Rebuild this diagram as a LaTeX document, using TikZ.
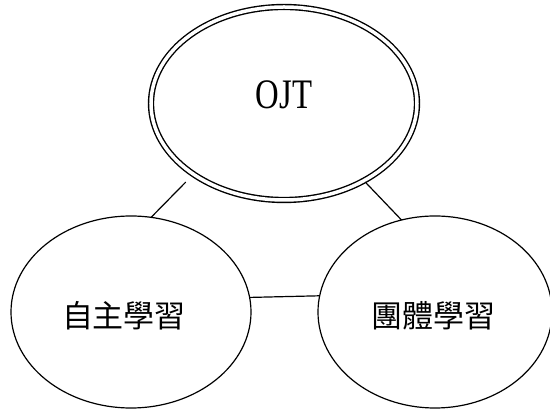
\documentclass[tikz,border=0pt]{standalone}
\usepackage{fontspec}
\usetikzlibrary{shapes.geometric}
\newfontfamily\cjkfont{Noto Sans CJK TC}
\newfontfamily\ojtfont[FakeStretch=0.78]{Liberation Serif}
\begin{document}
\begin{tikzpicture}[x=1pt,y=-1pt,
  bubble/.style={draw=black, ellipse, line width=1.2pt, inner sep=0pt, outer sep=0pt},
  mainbubble/.style={draw=black, ellipse, double=white, double distance=3.5pt, line width=1.4pt, inner sep=0pt, outer sep=0pt},
  cjklabel/.style={font=\cjkfont\fontsize{31}{31}\selectfont, inner sep=0pt},
  ojtlabel/.style={font=\ojtfont\fontsize{42}{42}\selectfont, inner sep=0pt},
  link/.style={draw=black, line width=1.2pt}]
\useasboundingbox (0,0) rectangle (550,411);
\fill[white] (0,0) rectangle (550,411);
\node[mainbubble, minimum width=266pt, minimum height=193pt] (T) at (284,103.5) {};
\node[bubble, minimum width=240pt, minimum height=192pt] (L) at (131,312) {};
\node[bubble, minimum width=234pt, minimum height=192pt] (R) at (435,312) {};
\node[ojtlabel] (tT) at (284,95) {OJT};
\node[cjklabel] (tL) at (124,316) {自主學習};
\node[cjklabel] (tR) at (433,316) {團體學習};
\draw[link, shorten >=11pt] (L.78) -- (T.218);
\draw[link, shorten >=2pt] (R.110) -- (T.316);
\draw[link] (L.7.7) -- (R.172.1);
\end{tikzpicture}
\end{document}
